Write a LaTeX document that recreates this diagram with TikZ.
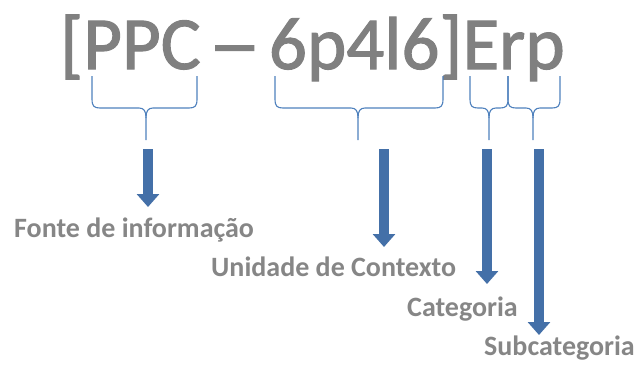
\documentclass[tikz,border=0pt]{standalone}
\usepackage{fontspec}
\setmainfont{Carlito}
\usepackage{graphicx}
\usetikzlibrary{arrows.meta}
\definecolor{codegray}{HTML}{808080}
\definecolor{labelgray}{HTML}{868686}
\definecolor{braceblue}{HTML}{4F81BD}
\definecolor{arrowblue}{HTML}{4470A8}
\begin{document}
\begin{tikzpicture}[x=1pt, y=-1pt,
  code/.style={inner sep=0pt, anchor=base west, text=codegray, font=\fontsize{75}{80}\selectfont\addfontfeature{FakeBold=1.5}},
  label/.style={inner sep=0pt, anchor=base west, text=labelgray, font=\bfseries\fontsize{28}{30}\selectfont},
  brace/.style={draw=braceblue, line width=1.1pt},
  blockarrow/.style={draw=arrowblue, line width=10pt, -{Triangle[width=22pt, length=13pt]}}]

  \useasboundingbox (0,0) rectangle (642,365);

  % Code
  \node[code] (code) at (60,69) {[PPC\hspace{-9pt} \scalebox{1.4}[1]{–}\hspace{-9pt} 6p4l6]Erp};

  % Braces under the code
  \foreach \l/\m/\r/\n in {92/146/197/1, 275/358/443/2, 470/489/508/3, 508/533/560/4} {
    \coordinate (tip\n) at (\m,140);
    \draw[brace] (\l,76) -- (\l,99) .. controls (\l,106) and (\l+2,108) .. (\l+8,108)
      -- (\m-7,108) .. controls (\m-2,108) and (\m,111) .. (\m,118) -- (tip\n);
    \draw[brace] (\r,76) -- (\r,99) .. controls (\r,106) and (\r-2,108) .. (\r-8,108)
      -- (\m+7,108) .. controls (\m+2,108) and (\m,111) .. (\m,118);
  }

  % Labels
  \node[label] (fonte) at (14,237) {Fonte de informação};
  \node[label] (unidade) at (211,276) {Unidade de Contexto};
  \node[label] (categoria) at (407,316) {Categoria};
  \node[label] (subcat) at (484,355) {Subcategoria};

  % Arrows
  \foreach \x/\y/\n in {148/207/1, 384/247/2, 487/284/3, 539/335/4} {
    \coordinate (s\n) at (\x,149);
    \coordinate (e\n) at (\x,\y);
    \draw[blockarrow] (s\n) -- (e\n);
  }

\end{tikzpicture}
\end{document}
